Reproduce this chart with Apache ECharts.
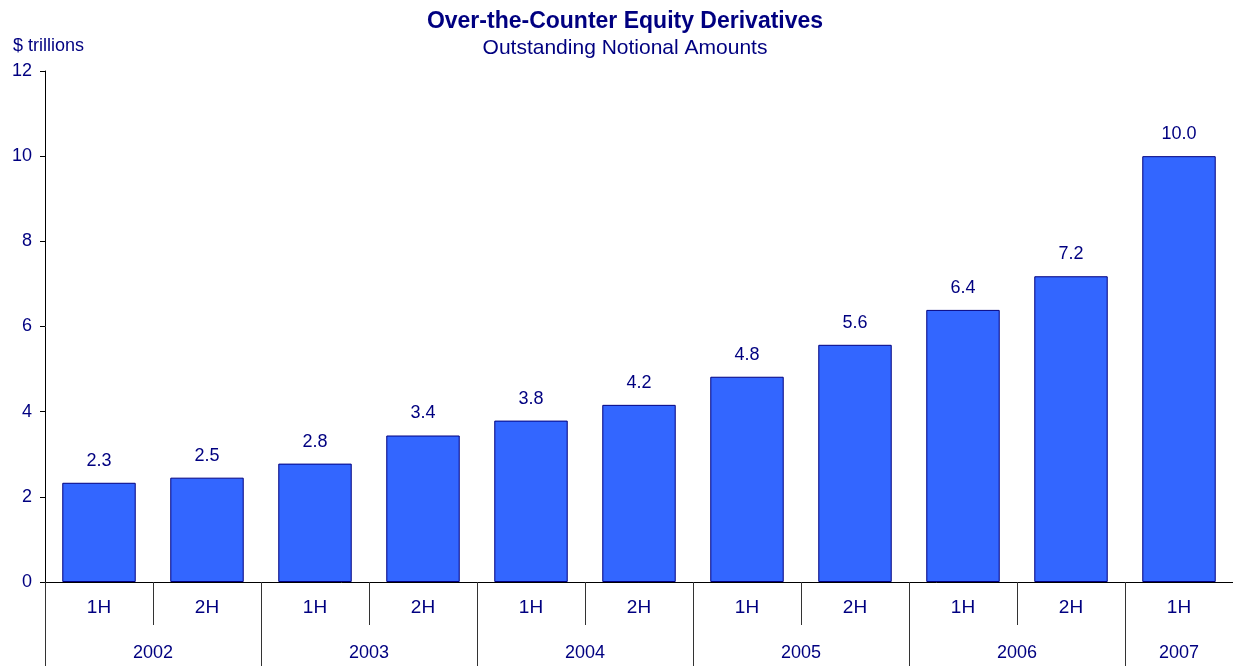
<!DOCTYPE html>
<html><head><meta charset="utf-8">
<script src="https://cdn.jsdelivr.net/npm/echarts@6/dist/echarts.min.js"></script>
<style>html,body{margin:0;padding:0;background:#fff}#c{width:1233px;height:666px}</style>
</head><body><div id="c"></div>
<script>
const halves = ['1H','2H','1H','2H','1H','2H','1H','2H','1H','2H','1H'];
const years = ['2002','2003','2004','2005','2006','2007'];
const yearCenters = [1,3,5,7,9,10.5];
const yearBounds = [0,2,4,6,8,10,11];
const values = [2.33,2.45,2.78,3.44,3.79,4.16,4.82,5.57,6.39,7.18,10.0];
const yTicks = [0,2,4,6,8,10,12];

const navy = '#000080';
const font = 'Liberation Sans, Arial, sans-serif';
const chart = echarts.init(document.getElementById('c'));
chart.setOption({
  animation:false,
  textStyle:{fontFamily:font},
  title:[
    {text:'Over-the-Counter Equity Derivatives', left:620, textAlign:'center', top:5,
     textStyle:{color:navy, fontSize:23, fontWeight:'bold', fontFamily:font}},
    {text:'Outstanding Notional Amounts', left:620, textAlign:'center', top:33,
     textStyle:{color:navy, fontSize:21, fontWeight:'normal', fontFamily:font}},
    {text:'$ trillions', left:8, top:32,
     textStyle:{color:navy, fontSize:18, fontWeight:'normal', fontFamily:font}}
  ],
  grid:{left:45, right:-1, top:71, bottom:84, containLabel:false},
  xAxis:[
    {type:'category', data:halves, position:'bottom',
     axisLine:{lineStyle:{color:'#000', width:1}},
     axisTick:{show:true, length:43, lineStyle:{color:'#333'}},
     axisLabel:{color:navy, fontSize:19, margin:16, fontFamily:font},
     splitLine:{show:false}},
    {type:'value', min:0, max:11, position:'bottom',
     axisLine:{show:false},
     axisTick:{show:true, length:84, customValues:yearBounds, lineStyle:{color:'#333'}},
     axisLabel:{show:true, customValues:yearCenters, color:navy, fontSize:18, margin:62, fontFamily:font,
       formatter:function(v){const i=yearCenters.indexOf(v); return i>=0?years[i]:'';}},
     splitLine:{show:false}}
  ],
  yAxis:{type:'value', min:0, max:12, interval:2,
    axisLine:{show:true, lineStyle:{color:'#000'}},
    axisTick:{show:true, length:5, lineStyle:{color:'#000'}},
    axisLabel:{color:navy, fontSize:18, margin:13, fontFamily:font,
      formatter:function(v){return yTicks.indexOf(v)>=0?String(v):'';}},
    splitLine:{show:false}},
  series:[{type:'bar', xAxisIndex:0, data:values, barCategoryGap:'32%',
    itemStyle:{color:'#3366FF', borderColor:navy, borderWidth:1},
    label:{show:true, position:'top', distance:13, color:navy, fontSize:18, fontFamily:font,
      formatter:function(p){return p.value.toFixed(1);}}}]
});
</script></body></html>
